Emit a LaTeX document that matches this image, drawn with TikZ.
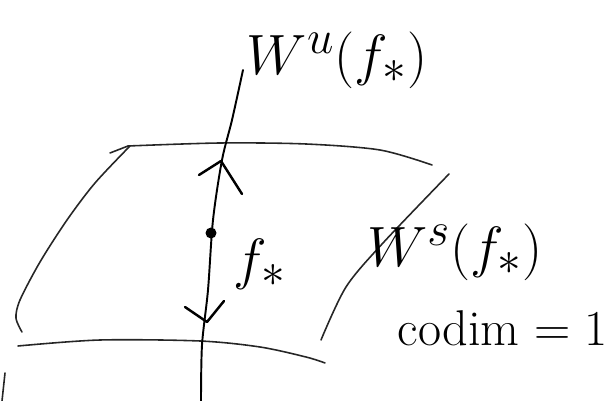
\documentclass[tikz,border=0pt]{standalone}
\usepackage{tikz}
\usetikzlibrary{positioning}

\newcommand{\bigtag}[1]{\scalebox{1.3}{\Huge #1}}

\begin{document}
\begin{tikzpicture}[
  x=0.02cm, y=-0.02cm,
  sheet/.style={draw=black!85, line width=0.9pt, line cap=round},
  manifold/.style={draw=black, line width=1.1pt, line cap=round},
  flow/.style={draw=black, line width=1.4pt, line cap=round, line join=round},
  point/.style={circle, fill=black, inner sep=0pt, minimum size=0.22cm},
  tag/.style={inner sep=1pt}
]
\useasboundingbox (0,0) rectangle (612,401);

% the stable sheet W^s
\draw[sheet] (110,153) -- (128,146);
\draw[sheet] plot[smooth] coordinates {(128,146) (220,143) (306,144) (380,150) (432,165)};
\draw[sheet] plot[smooth] coordinates {(130,146) (95,183) (67,220) (40,262) (20,300) (16,318) (22,332)};
\draw[sheet] plot[smooth] coordinates {(18,346) (100,340) (200,341) (260,347) (306,357) (325,363)};
\draw[sheet] plot[smooth] coordinates {(449,174) (383,243) (346,287) (321,340)};
\draw[sheet] (5,373) -- (2,401);

% the unstable curve W^u through the fixed point
\draw[manifold] plot[smooth] coordinates {(243,70) (232,120) (222,160) (213,220) (208,290) (202,345) (201,401)};
\node[point] (fstar) at (211,233) {};

% directions of the flow
\draw[flow] (199,175) -- (221,161) -- (242,194);
\draw[flow] (185,307) -- (207,322) -- (224,301);

% labels
\node[tag] (fstarlbl) at (260,264) {\bigtag{$f_*$}};
\node[tag] (wu) at (337,60) {\bigtag{$W^u(f_*)$}};
\node[tag] (ws) at (455,252) {\bigtag{$W^s(f_*)$}};
\node[tag] (codim) at (503,328) {\scalebox{1.15}{\Huge codim $=1$}};
\end{tikzpicture}
\end{document}
